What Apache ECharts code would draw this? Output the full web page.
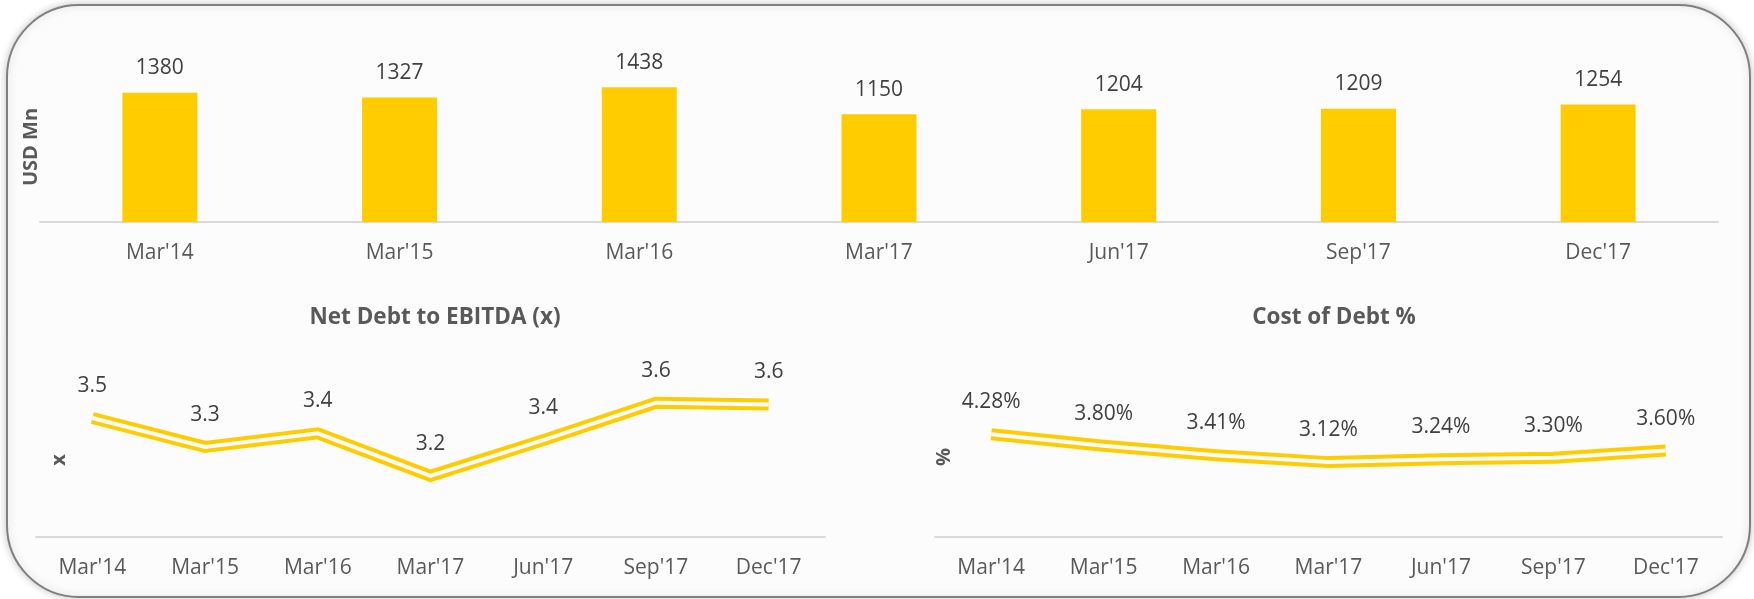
<!DOCTYPE html>
<html>
<head>
<meta charset="utf-8">
<script src="https://cdn.jsdelivr.net/npm/echarts@6/dist/echarts.min.js"></script>
<style>
  html, body { margin: 0; padding: 0; background: #ffffff; }
  #chart { width: 1754px; height: 599px; }
</style>
</head>
<body>
<div id="chart"></div>
<script>
// values
const categories = ["Mar'14", "Mar'15", "Mar'16", "Mar'17", "Jun'17", "Sep'17", "Dec'17"]
const netDebt = [1380, 1327, 1438, 1150, 1204, 1209, 1254]
const debtToEbitda = [3.50, 3.33, 3.41, 3.16, 3.37, 3.59, 3.58]
const costOfDebt = [4.28, 3.80, 3.41, 3.12, 3.24, 3.30, 3.60]

const yellow = '#FFCC00'
const panelBg = '#fcfcfc'
const font = '"Open Sans", "Noto Sans", sans-serif'

const mychart = echarts.init(document.getElementById('chart'))

function catAxis(gridIndex) {
  return {
    type: 'category',
    gridIndex: gridIndex,
    data: categories,
    axisLine: { show: true, lineStyle: { color: '#d9d9d9', width: 2 } },
    axisTick: { show: false },
    axisLabel: { color: '#595959', fontSize: 21, fontFamily: font, margin: 21 }
  }
}

// padding shifts the rotated name along the axis
function valAxis(gridIndex, min, max, name, gap, padding) {
  return {
    type: 'value',
    gridIndex: gridIndex,
    min: min,
    max: max,
    show: true,
    axisLine: { show: false },
    axisTick: { show: false },
    axisLabel: { show: false },
    splitLine: { show: false },
    name: name,
    nameLocation: 'middle',
    nameGap: gap,
    nameTextStyle: {
      color: '#595959',
      fontSize: 20,
      fontWeight: 'bold',
      fontFamily: font,
      padding: padding
    }
  }
}

// double line: thick yellow stroke with a thin background-coloured stroke on top
function doubleLine(idx, data, fmt) {
  return [
    {
      type: 'line',
      xAxisIndex: idx,
      yAxisIndex: idx,
      data: data,
      symbol: 'circle',
      symbolSize: 1,
      itemStyle: { color: 'rgba(0,0,0,0)' },
      lineStyle: { color: yellow, width: 12, join: 'miter' },
      label: {
        show: true,
        position: 'top',
        distance: 21,
        color: '#404040',
        fontSize: 21,
        fontFamily: font,
        formatter: (p) => fmt(p.value)
      },
      silent: true
    },
    {
      type: 'line',
      xAxisIndex: idx,
      yAxisIndex: idx,
      data: data,
      symbol: 'none',
      lineStyle: { color: panelBg, width: 4, join: 'miter' },
      silent: true
    }
  ]
}

const titleStyle = { color: '#595959', fontSize: 22.5, fontWeight: 'bold', fontFamily: font }

const option = {
  animation: false,
  graphic: [
    {
      type: 'rect',
      z: -10,
      shape: { x: 7, y: 5, width: 1743, height: 592, r: 72 },
      style: {
        fill: panelBg,
        stroke: '#7f7f7f',
        lineWidth: 2,
        shadowBlur: 8,
        shadowColor: 'rgba(0,0,0,0.22)'
      }
    }
  ],
  title: [
    { text: 'Net Debt to EBITDA (x)', left: 430, top: 301, textAlign: 'center', textStyle: titleStyle },
    { text: 'Cost of Debt %', left: 1329, top: 301, textAlign: 'center', textStyle: titleStyle }
  ],
  grid: [
    { left: 40, right: 36, top: 72, height: 150 },
    { left: 36, right: 929, top: 333, height: 204 },
    { left: 935, right: 32, top: 417, height: 120 }
  ],
  xAxis: [catAxis(0), catAxis(1), catAxis(2)],
  yAxis: [
    valAxis(0, 0, 1600, 'USD Mn', -1, 0),
    valAxis(1, 2.8, 4.0, 'x', -33, [0, 50, 0, 0]),
    valAxis(2, 0, 5, '%', -19, [0, 0, 0, 40])
  ],
  series: [
    {
      type: 'bar',
      xAxisIndex: 0,
      yAxisIndex: 0,
      data: netDebt,
      barWidth: 75,
      itemStyle: { color: yellow },
      label: {
        show: true,
        position: 'top',
        distance: 14,
        color: '#404040',
        fontSize: 21,
        fontFamily: font
      },
      silent: true
    },
    ...doubleLine(1, debtToEbitda, (v) => v.toFixed(1)),
    ...doubleLine(2, costOfDebt, (v) => v.toFixed(2) + '%')
  ]
}

mychart.setOption(option)
</script>
</body>
</html>
